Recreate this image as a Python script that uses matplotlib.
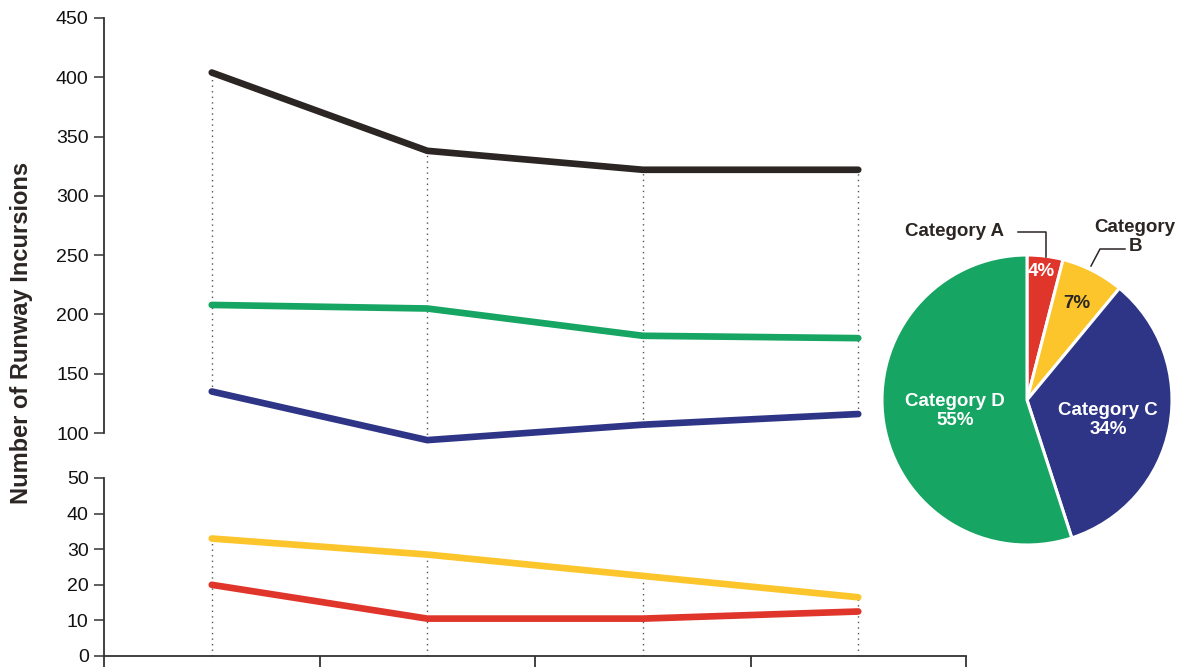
import matplotlib
matplotlib.use('Agg')
import matplotlib.pyplot as plt

plt.rcParams['font.family'] = ['Liberation Sans Narrow', 'Liberation Sans', 'DejaVu Sans']

# Line chart data (four periods)
periods = [0, 1, 2, 3]
total = [404, 338, 322, 322]
cat_d = [208, 205, 182, 180]
cat_c = [135, 94, 107, 116]
cat_b = [33, 28.5, 22.5, 16.5]
cat_a = [20, 10.5, 10.5, 12.5]

# Pie chart data
pie_labels = ['Category A', 'Category B', 'Category C', 'Category D']
pie_shares = [4, 7, 34, 55]

BLACK = '#2b2523'
GREEN = '#16a562'
BLUE = '#2e3586'
YELLOW = '#fbc52b'
RED = '#e0352b'
pie_colors = [RED, YELLOW, BLUE, GREEN]

fig = plt.figure(figsize=(11.8, 6.67), dpi=100)

W, H = 1180, 667
def box(x0, y0, x1, y1):
    return [x0 / W, 1 - y1 / H, (x1 - x0) / W, (y1 - y0) / H]

ax_top = fig.add_axes(box(104, 18, 966, 433))
ax_bot = fig.add_axes(box(104, 478, 966, 656))

lw = 4.8
dot_kw = dict(color='#555555', linestyle=(0, (1, 3)), linewidth=1.0, zorder=1,
              clip_on=False)

# upper panel: larger counts
for x, hi, lo in zip(periods, total, cat_c):
    ax_top.plot([x, x], [lo, hi], **dot_kw)
for vals, col in [(total, BLACK), (cat_d, GREEN), (cat_c, BLUE)]:
    ax_top.plot(periods, vals, color=col, linewidth=lw, solid_capstyle='round',
                solid_joinstyle='round', zorder=3, clip_on=False)
ax_top.set_ylim(100, 450)
ax_top.set_yticks(range(100, 451, 50))
ax_top.set_xlim(-0.5, 3.5)
ax_top.set_xticks([])
for s in ['top', 'right', 'bottom']:
    ax_top.spines[s].set_visible(False)

# lower panel: small counts
for x, hi in zip(periods, cat_b):
    ax_bot.plot([x, x], [0, hi], **dot_kw)
for vals, col in [(cat_b, YELLOW), (cat_a, RED)]:
    ax_bot.plot(periods, vals, color=col, linewidth=lw, solid_capstyle='round',
                solid_joinstyle='round', zorder=3, clip_on=False)
ax_bot.set_ylim(0, 50)
ax_bot.set_yticks(range(0, 51, 10))
ax_bot.set_xlim(-0.5, 3.5)
ax_bot.set_xticks([-0.5, 0.5, 1.5, 2.5, 3.5])
ax_bot.set_xticklabels([])
for s in ['top', 'right']:
    ax_bot.spines[s].set_visible(False)

for ax in (ax_top, ax_bot):
    ax.patch.set_alpha(0)
    for s in ax.spines.values():
        s.set_color('#333333')
        s.set_linewidth(1.3)
    ax.tick_params(axis='y', direction='out', length=7, width=1.1, color='#333333',
                   labelsize=14, labelcolor='#111111', pad=4)
    ax.tick_params(axis='x', direction='out', length=8, width=1.3, color='#333333')
    ax.spines['left'].set_position(('data', -0.5))
    for lab in ax.get_yticklabels():
        lab.set_family(['Liberation Sans', 'DejaVu Sans'])

fig.text(22 / W, 1 - 333 / H, 'Number of Runway Incursions', rotation=90,
         ha='center', va='center', fontsize=17, fontweight='bold', color='#2b2523',
         family=['Liberation Sans', 'DejaVu Sans'])

# pie chart
cx, cy, r = 1027, 400, 145
ax_pie = fig.add_axes(box(cx - r - 10, cy - r - 10, cx + r + 10, cy + r + 10))
ax_pie.pie(pie_shares, colors=pie_colors, startangle=90, counterclock=False,
           radius=1, wedgeprops=dict(edgecolor='white', linewidth=2.2))
lim = (r + 10) / r
ax_pie.set_xlim(-lim, lim)
ax_pie.set_ylim(-lim, lim)
ax_pie.set_aspect('equal')
ax_pie.axis('off')

def pc(px, py):
    return ((px - cx) / r, (cy - py) / r)

pie_kw = dict(fontweight='bold', ha='center', va='center', fontsize=13.5)
ax_pie.text(*pc(1041, 272), f'{pie_shares[0]}%', color='white', **pie_kw)
ax_pie.text(*pc(1077, 304), f'{pie_shares[1]}%', color=BLACK, **pie_kw)
ax_pie.text(*pc(1108, 420), f'{pie_labels[2]}\n{pie_shares[2]}%', color='white',
            linespacing=1.2, **pie_kw)
ax_pie.text(*pc(955, 411), f'{pie_labels[3]}\n{pie_shares[3]}%', color='white',
            linespacing=1.2, **pie_kw)

ax_pie.text(*pc(1004, 232), pie_labels[0], color=BLACK, fontweight='bold',
            fontsize=13.5, ha='right', va='center')
ax_pie.text(*pc(1135, 237), 'Category\nB', color=BLACK, fontweight='bold',
            fontsize=13.5, ha='center', va='center', linespacing=1.15, clip_on=False)

lead = [pc(1018, 232), pc(1046, 232), pc(1046, 257)]
ax_pie.plot([p[0] for p in lead], [p[1] for p in lead], color=BLACK, linewidth=1.1,
            clip_on=False)
lead = [pc(1125, 249), pc(1100, 249), pc(1091, 266)]
ax_pie.plot([p[0] for p in lead], [p[1] for p in lead], color=BLACK, linewidth=1.1,
            clip_on=False)

fig.savefig('out.png', dpi=100)
